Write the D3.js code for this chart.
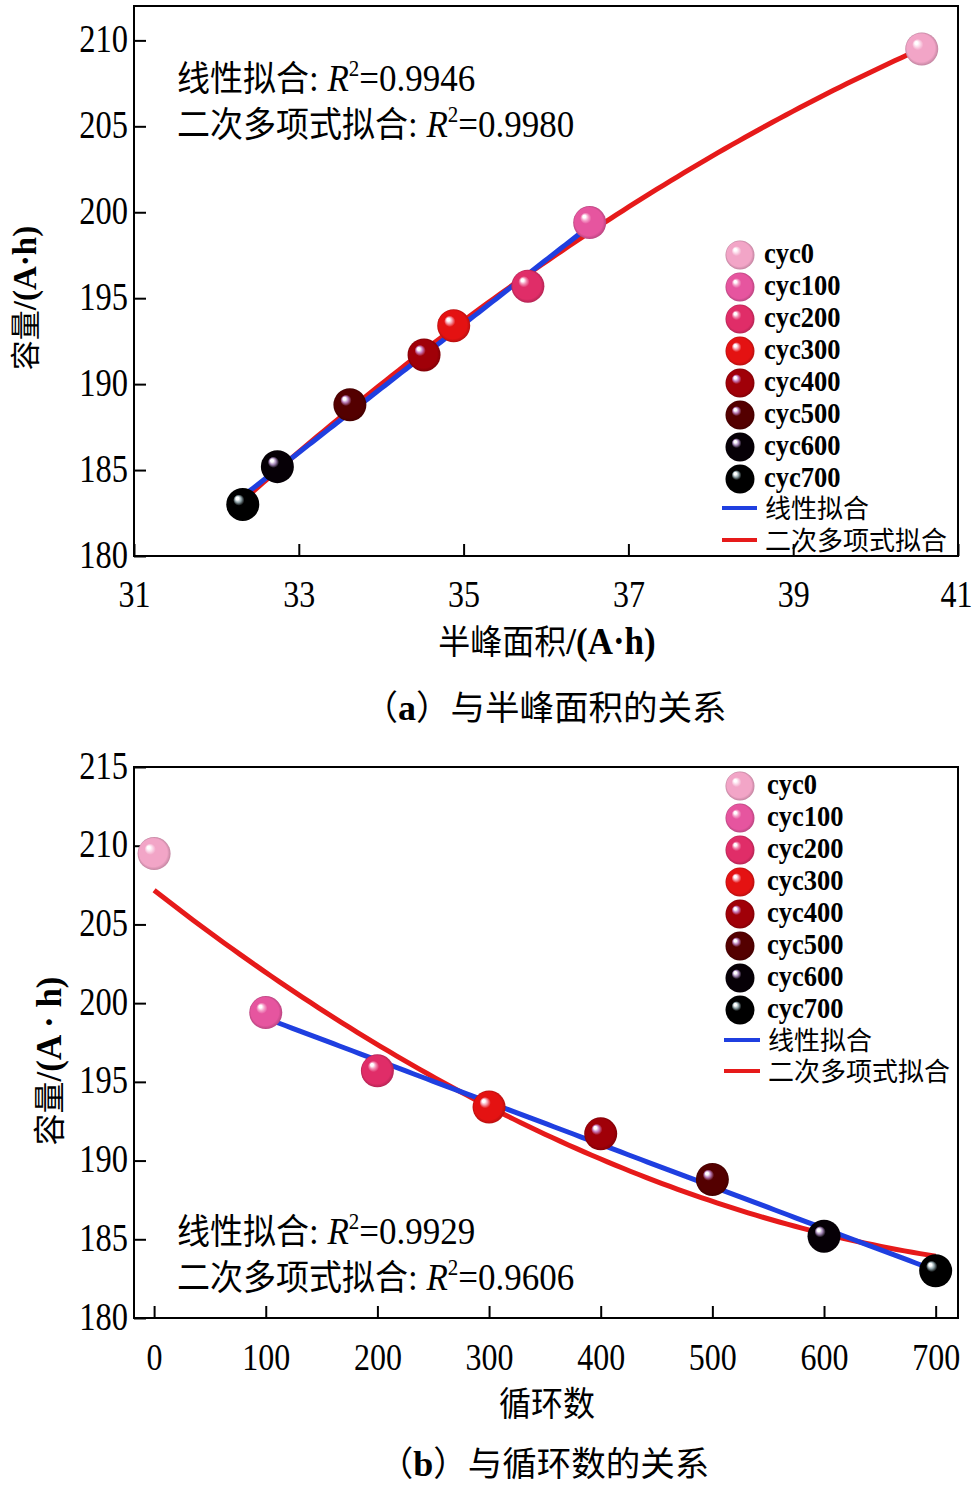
<!DOCTYPE html>
<html><head><meta charset="utf-8">
<script src="https://cdn.jsdelivr.net/npm/d3@7"></script>
<style>body{margin:0;background:#fff}</style>
</head><body>
<svg id="chart" width="973" height="1487" xmlns="http://www.w3.org/2000/svg"></svg>
<script>
// ---------- data ----------
const cycleNames = ["cyc0","cyc100","cyc200","cyc300","cyc400","cyc500","cyc600","cyc700"];
const cycleNum = [0,100,200,300,400,500,600,700];
const halfPeakArea = [40.56,36.53,35.78,34.88,34.52,33.62,32.74,32.32];
const capacity = [209.5,199.4,195.7,193.4,191.7,188.8,185.2,183.0];
const baseColors = ["#f2a5c7","#e6559f","#e02d68","#e41212","#a00008","#540000","#060006","#000000"];
const glowColors = ["#fbd8e8","#f6a6cc","#f290b4","#f49aa8","#c77bbd","#b67ab6","#a588b8","#8fa3a8"];
const topXTicks = [31,33,35,37,39,41];
const topYTicks = [180,185,190,195,200,205,210];
const botXTicks = [0,100,200,300,400,500,600,700];
const botYTicks = [180,185,190,195,200,205,210,215];
const r2Top = ["0.9946","0.9980"];
const r2Bot = ["0.9929","0.9606"];
const fitNames = ["线性拟合","二次多项式拟合"];
const fitColors = ["#1f3fe0","#e61a1a"];

const svg = d3.select("#chart");
const SERIF = "'Liberation Serif','Times New Roman',serif";
const CJK = "'Noto Sans CJK SC','Noto Sans',sans-serif";

// ---------- gradients ----------
const defs = svg.append("defs");
baseColors.forEach((c,i)=>{
  const g = defs.append("radialGradient").attr("id","ball"+i)
    .attr("cx","50%").attr("cy","50%").attr("r","50%").attr("fx","32%").attr("fy","30%");
  g.append("stop").attr("offset","0%").attr("stop-color","#ffffff");
  g.append("stop").attr("offset","9%").attr("stop-color","#ffffff");
  g.append("stop").attr("offset","20%").attr("stop-color",glowColors[i]);
  g.append("stop").attr("offset","34%").attr("stop-color",c);
  g.append("stop").attr("offset","85%").attr("stop-color",c);
  g.append("stop").attr("offset","100%").attr("stop-color",d3.color(c).darker(0.6).formatHex());
});

// ---------- helpers ----------
function polyfit(xs, ys, deg){
  const n = deg+1, mx = d3.mean(xs);
  const A = Array.from({length:n},()=>Array(n+1).fill(0));
  xs.forEach((x0,k)=>{
    const x = x0-mx;
    for(let i=0;i<n;i++){
      for(let j=0;j<n;j++) A[i][j]+=Math.pow(x,i+j);
      A[i][n]+=ys[k]*Math.pow(x,i);
    }
  });
  for(let i=0;i<n;i++){
    let p=i; for(let r=i+1;r<n;r++) if(Math.abs(A[r][i])>Math.abs(A[p][i])) p=r;
    [A[i],A[p]]=[A[p],A[i]];
    for(let r=0;r<n;r++){ if(r===i) continue; const f=A[r][i]/A[i][i]; for(let c=i;c<=n;c++) A[r][c]-=f*A[i][c]; }
  }
  const coef = A.map((row,i)=>row[n]/row[i]);
  return x=>coef.reduce((s,c,i)=>s+c*Math.pow(x-mx,i),0);
}
function stretchText(parent,x,y,sy,anchor){
  return parent.append("text").attr("transform",`translate(${x},${y}) scale(1,${sy})`)
    .attr("text-anchor",anchor||"start").attr("fill","#000");
}
function r2Label(parent,x,y,name,val){
  const t = stretchText(parent,x,y,1.06,"start");
  t.append("tspan").attr("font-family",CJK).attr("font-size",33).text(name);
  t.append("tspan").attr("font-family",SERIF).attr("font-size",35).text(": ");
  t.append("tspan").attr("font-family",SERIF).attr("font-size",35).attr("font-style","italic").text("R");
  t.append("tspan").attr("font-family",SERIF).attr("font-size",21).attr("dy",-14).text("2");
  t.append("tspan").attr("font-family",SERIF).attr("font-size",35).attr("dy",14).text("="+val);
}

function panel(cfg){
  const g = svg.append("g");
  const x = d3.scaleLinear().domain(cfg.xDomain).range([134,958]);
  const y = d3.scaleLinear().domain(cfg.yDomain).range([cfg.bottom,cfg.top]);
  // axes
  const ax = g.append("g").attr("transform",`translate(0,${cfg.bottom})`)
    .call(d3.axisBottom(x).tickValues(cfg.xTicks).tickSizeInner(-12).tickSizeOuter(0).tickFormat(d3.format("d")));
  ax.select(".domain").remove();
  ax.selectAll(".tick line").attr("stroke","#000").attr("stroke-width",2);
  ax.selectAll(".tick text").attr("y",0).attr("dy",0)
    .attr("transform",(d)=>`translate(${x(d)>950?-2:0},${cfg.xLabelOffset}) scale(1,1.2)`)
    .attr("font-family",SERIF).attr("font-size",32).attr("fill","#000");
  const ay = g.append("g").attr("transform","translate(134,0)")
    .call(d3.axisLeft(y).tickValues(cfg.yTicks).tickSizeInner(-12).tickSizeOuter(0).tickPadding(6).tickFormat(d3.format("d")));
  ay.select(".domain").remove();
  ay.selectAll(".tick line").attr("stroke","#000").attr("stroke-width",2);
  ay.selectAll(".tick text").attr("dy",0).attr("transform","translate(0,11) scale(1,1.2)")
    .attr("font-family",SERIF).attr("font-size",32.5).attr("fill","#000");
  // frame
  g.append("rect").attr("x",134).attr("y",cfg.top).attr("width",824).attr("height",cfg.bottom-cfg.top)
    .attr("fill","none").attr("stroke","#000").attr("stroke-width",2);

  // fits
  const xs = cfg.xValues, fitSets = [
    {idx:[1,2,3,4,5,6,7], deg:1, color:fitColors[0]},
    {idx:[0,1,2,3,4,5,6,7], deg:2, color:fitColors[1]}
  ];
  const line = d3.line().x(d=>x(d[0])).y(d=>y(d[1]));
  fitSets.slice().reverse().forEach(fs=>{
    const fx = fs.idx.map(i=>xs[i]), fy = fs.idx.map(i=>capacity[i]);
    const f = polyfit(fx,fy,fs.deg);
    const [lo,hi] = d3.extent(fx);
    const pts = d3.range(0,101).map(k=>{const xv=lo+(hi-lo)*k/100; return [xv,f(xv)];});
    g.append("path").attr("d",line(pts)).attr("fill","none").attr("stroke",fs.color).attr("stroke-width",5);
  });
  // points
  g.selectAll(".pt").data(capacity).enter().append("circle")
    .attr("cx",(d,i)=>x(xs[i])).attr("cy",d=>y(d)).attr("r",16.5)
    .attr("fill",(d,i)=>`url(#ball${i})`);

  // legend
  const L = cfg.legend;
  cycleNames.forEach((n,i)=>{
    const cy = L.y0 + i*32;
    g.append("circle").attr("cx",L.bx).attr("cy",cy).attr("r",14.5).attr("fill",`url(#ball${i})`);
    stretchText(g,L.tx,cy+8,1.08,"start").attr("font-family",SERIF).attr("font-weight","bold")
      .attr("font-size",26.5).text(n);
  });
  fitNames.forEach((n,i)=>{
    const cy = L.ly[i];
    g.append("line").attr("x1",L.lx0).attr("x2",L.lx1).attr("y1",cy).attr("y2",cy)
      .attr("stroke",fitColors[i]).attr("stroke-width",4);
    stretchText(g,L.tx+1,cy+10,1.0,"start").attr("font-family",CJK).attr("font-size",26).text(n);
  });
  // R2 labels
  r2Label(g,177,cfg.r2y[0],fitNames[0],cfg.r2[0]);
  r2Label(g,177,cfg.r2y[1],fitNames[1],cfg.r2[1]);

  // x title
  const xt = stretchText(g,547,cfg.xTitleY,1.08,"middle");
  cfg.xTitle.forEach(p=>xt.append("tspan").attr("font-family",p.cjk?CJK:SERIF)
    .attr("font-weight",p.cjk?"normal":"bold").attr("font-size",p.cjk?32:35).text(p.t));
  // y title
  const yt = g.append("text").attr("transform",`translate(${cfg.yTitleX},${cfg.yTitleY}) rotate(-90)`)
    .attr("text-anchor","middle");
  cfg.yTitle.forEach(p=>yt.append("tspan").attr("font-family",p.cjk?CJK:SERIF)
    .attr("font-weight",p.cjk?"normal":"bold").attr("font-size",p.cjk?cfg.yTitleSize:cfg.yTitleSize+3).text(p.t));
  // caption
  const ct = g.append("text").attr("x",cfg.capX).attr("y",cfg.capY).attr("text-anchor","middle");
  cfg.caption.forEach(p=>ct.append("tspan").attr("font-family",p.cjk?CJK:SERIF)
    .attr("font-weight",p.cjk?"normal":"bold").attr("font-size",p.cjk?34.5:36).text(p.t));
}

panel({
  xDomain:[31,41], yDomain:[180,212], top:6, bottom:556,
  xTicks:topXTicks, yTicks:topYTicks, xLabelOffset:51, xValues:halfPeakArea,
  legend:{bx:740, y0:255, tx:764, lx0:722, lx1:757, ly:[508,540]},
  r2:r2Top, r2y:[91,137],
  xTitle:[{t:"半峰面积",cjk:true},{t:"/(A·h)"}], xTitleY:654,
  yTitle:[{t:"容量",cjk:true},{t:"/(A·h)"}], yTitleX:36, yTitleY:298, yTitleSize:30,
  caption:[{t:"（",cjk:true},{t:"a"},{t:"）与半峰面积的关系",cjk:true}], capX:545, capY:720
});
panel({
  xDomain:[-18,720], yDomain:[180,215], top:767, bottom:1318,
  xTicks:botXTicks, yTicks:botYTicks, xLabelOffset:52, xValues:cycleNum,
  legend:{bx:740, y0:786, tx:767, lx0:724, lx1:760, ly:[1040,1071]},
  r2:r2Bot, r2y:[1244,1290],
  xTitle:[{t:"循环数",cjk:true}], xTitleY:1416,
  yTitle:[{t:"容量",cjk:true},{t:"/(A · h)"}], yTitleX:61, yTitleY:1061, yTitleSize:32,
  caption:[{t:"（",cjk:true},{t:"b"},{t:"）与循环数的关系",cjk:true}], capX:544, capY:1476
});
</script>
</body></html>
